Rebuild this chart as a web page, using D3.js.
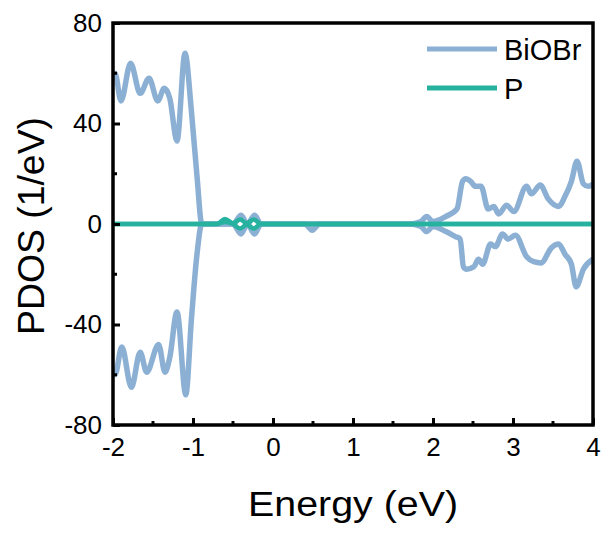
<!DOCTYPE html>
<html lang="en">
<head>
    <meta charset="UTF-8">
    <title>PDOS</title>
    <script src="https://cdnjs.cloudflare.com/ajax/libs/d3/7.8.5/d3.min.js"></script>
    <style>
        body { margin: 0; background: #fff; }
        .chart text { font-family: "Liberation Sans", Arial, sans-serif; fill: #000; }
        .axis path, .axis line { stroke: #000; }
        .axis text { font-size: 26px; }
    </style>
</head>
<body>
    <svg class="chart"></svg>
    <script>
        const width = 610, height = 534;
        const margin = {top: 23, right: 15, bottom: 109, left: 113};

        // BiOBr spin up / spin down
        const biobrUpE = [-2.0, -1.975, -1.90, -1.78, -1.66, -1.55, -1.44, -1.36, -1.29, -1.20, -1.10, -1.02, -0.95, -0.89, -0.80,
            -0.50, -0.40, -0.32, -0.23, -0.15, 0.0, 0.40, 0.6, 1.0, 1.7, 1.85, 1.92, 2.0, 2.16, 2.30, 2.37, 2.41, 2.47, 2.53, 2.60,
            2.69, 2.76, 2.82, 2.92, 3.01, 3.17, 3.23, 3.34, 3.44, 3.57, 3.65, 3.73, 3.80, 3.88, 3.94, 4.0];
        const biobrUp = [58, 60, 49, 64, 52, 58, 49, 54, 50, 33, 68, 45, 19, 0, 0,
            0, 3.5, 0, 3.5, 0, 0, 0, 0, 0, 0, 1, 3, 1, 3, 6, 17, 18, 17, 15, 15,
            6, 7, 4, 7.5, 5, 15, 12, 15.5, 10, 7, 11, 17, 25, 16, 15, 16];
        const biobrDownE = [-2.0, -1.975, -1.89, -1.77, -1.66, -1.58, -1.43, -1.35, -1.29, -1.20, -1.09, -1.02, -0.95, -0.89, -0.80,
            -0.50, -0.40, -0.32, -0.23, -0.15, 0.0, 0.40, 0.49, 0.58, 1.0, 1.7, 1.85, 1.92, 2.0, 2.16, 2.28, 2.34, 2.38, 2.42, 2.51,
            2.57, 2.62, 2.72, 2.78, 2.87, 2.94, 3.03, 3.17, 3.26, 3.35, 3.48, 3.57, 3.65, 3.73, 3.79, 3.88, 4.0];
        const biobrDown = [-57, -60, -49, -65, -51, -59, -48, -59, -53, -35, -68, -38, -12, 0, 0,
            0, -4, 0, -4, 0, 0, 0, -2.5, 0, 0, 0, -1, -3, -1, -3, -5, -6, -17, -18, -17,
            -14, -16, -8, -9, -4, -6, -4.5, -13, -15, -15.5, -9.5, -8, -12, -16, -25, -18, -14];

        // P spin up / spin down
        const pUpE = [-2.0, -0.70, -0.60, -0.50, -0.41, -0.33, -0.24, -0.15, 4.0];
        const pUp = [0, 0, 2, 0.3, 1.8, 0.3, 1.8, 0, 0];
        const pDownE = [-2.0, -0.70, -0.60, -0.50, -0.41, -0.33, -0.24, -0.15, 4.0];
        const pDown = [0, 0, 0.8, 0, -1.8, -0.3, -1.8, 0, 0];

        const xTicks = [-2, -1, 0, 1, 2, 3, 4];
        const yTicks = [-80, -40, 0, 40, 80];
        const seriesNames = ['BiOBr', 'P'];
        const colors = {BiOBr: '#8cb0d4', P: '#27b2a0'};

        const x = d3.scaleLinear().domain([-2, 4]).range([margin.left, width - margin.right - 2]);
        const y = d3.scaleLinear().domain([-80, 80]).range([height - margin.bottom, margin.top]);

        const svg = d3.select('.chart')
            .attr('width', width)
            .attr('height', height);

        svg.append('clipPath').attr('id', 'clip')
            .append('rect')
            .attr('x', x(-2)).attr('y', y(80))
            .attr('width', x(4) - x(-2)).attr('height', y(-80) - y(80));

        const line = d3.line()
            .x(d => x(d[0]))
            .y(d => y(d[1]))
            .curve(d3.curveMonotoneX);

        const curves = [
            {name: 'BiOBr', e: biobrUpE, v: biobrUp},
            {name: 'BiOBr', e: biobrDownE, v: biobrDown},
            {name: 'P', e: pUpE, v: pUp},
            {name: 'P', e: pDownE, v: pDown}
        ];

        const plot = svg.append('g').attr('clip-path', 'url(#clip)');
        plot.selectAll('path')
            .data(curves)
            .enter().append('path')
            .attr('fill', 'none')
            .attr('stroke', d => colors[d.name])
            .attr('stroke-width', d => d.name === 'P' ? 4.5 : 5.5)
            .attr('stroke-linejoin', 'round')
            .attr('d', d => line(d.e.map((e, i) => [e, d.v[i]])));

        // minor ticks
        const xMinor = d3.range(-1.5, 4, 1);
        const yMinor = d3.range(-60, 80, 40);
        svg.append('g').selectAll('line')
            .data(xMinor).enter().append('line')
            .attr('x1', d => x(d)).attr('x2', d => x(d))
            .attr('y1', y(-80)).attr('y2', y(-80) - 4)
            .attr('stroke', '#000').attr('stroke-width', 3);
        svg.append('g').selectAll('line')
            .data(yMinor).enter().append('line')
            .attr('y1', d => y(d)).attr('y2', d => y(d))
            .attr('x1', x(-2)).attr('x2', x(-2) + 4)
            .attr('stroke', '#000').attr('stroke-width', 3);

        // axes
        const xAxis = d3.axisBottom(x).tickValues(xTicks).tickSize(-7).tickPadding(13).tickFormat(d3.format('d'));
        const yAxis = d3.axisLeft(y).tickValues(yTicks).tickSize(-7).tickPadding(11).tickFormat(d3.format('d'));

        const gx = svg.append('g')
            .attr('class', 'x axis')
            .attr('transform', `translate(0, ${y(-80)})`)
            .call(xAxis);
        const gy = svg.append('g')
            .attr('class', 'y axis')
            .attr('transform', `translate(${x(-2)}, 0)`)
            .call(yAxis);
        gx.select('.domain').remove();
        gy.select('.domain').remove();
        svg.selectAll('.axis line').attr('stroke-width', 3);
        svg.selectAll('.axis text').text(function (d) { return String(d); });
        gx.selectAll('text').attr('dy', '0.71em');

        // frame
        svg.append('rect')
            .attr('x', x(-2)).attr('y', y(80))
            .attr('width', x(4) - x(-2)).attr('height', y(-80) - y(80))
            .attr('fill', 'none').attr('stroke', '#000').attr('stroke-width', 3.5);

        // axis titles
        svg.append('text')
            .attr('x', (x(-2) + x(4)) / 2)
            .attr('y', 516)
            .attr('text-anchor', 'middle')
            .attr('textLength', 210)
            .attr('lengthAdjust', 'spacingAndGlyphs')
            .style('font-size', '35px')
            .text('Energy (eV)');
        svg.append('text')
            .attr('transform', `translate(44, ${y(0) + 2}) rotate(-90)`)
            .attr('text-anchor', 'middle')
            .attr('textLength', 218)
            .attr('lengthAdjust', 'spacingAndGlyphs')
            .style('font-size', '36px')
            .text('PDOS (1/eV)');

        // legend
        const legend = svg.append('g').selectAll('g')
            .data(seriesNames).enter().append('g')
            .attr('transform', (d, i) => `translate(427, ${49 + i * 39})`);
        legend.append('line')
            .attr('x1', 0).attr('x2', 70)
            .attr('stroke', d => colors[d]).attr('stroke-width', 5);
        legend.append('text')
            .attr('x', 77).attr('y', 11)
            .style('font-size', '29px')
            .text(d => d);
    </script>
</body>
</html>
